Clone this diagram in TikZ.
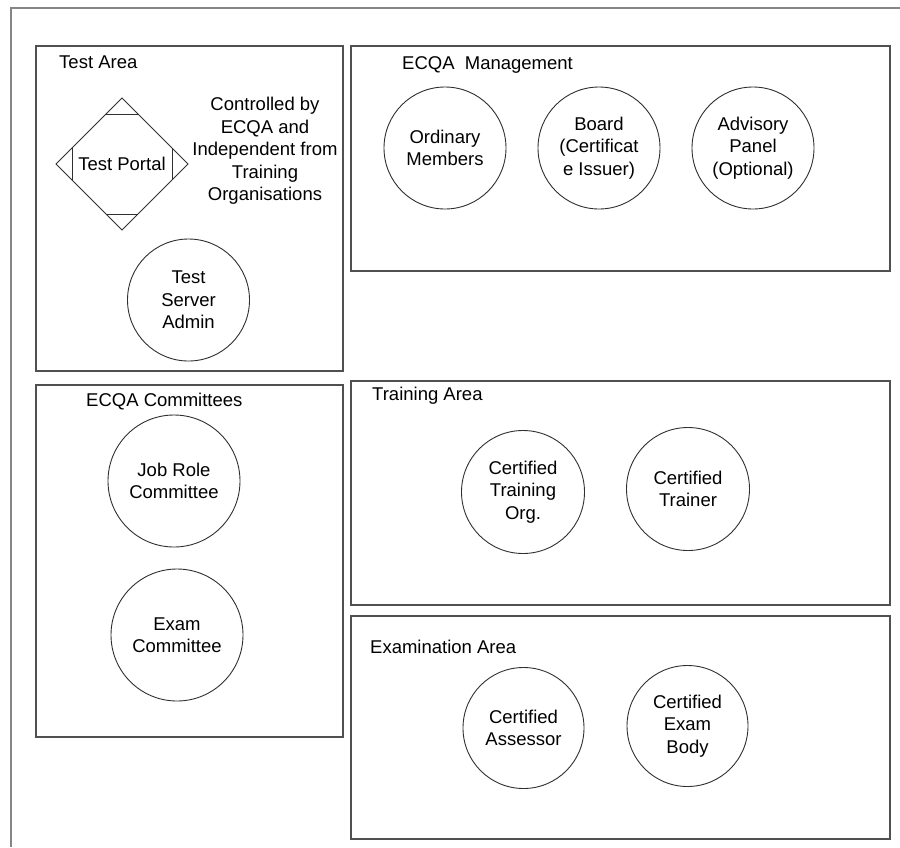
\documentclass[tikz,border=0pt]{standalone}
\usepackage{fontspec}
\setmainfont{Liberation Sans}
\usetikzlibrary{shapes.geometric}
\definecolor{boxline}{HTML}{505050}
\definecolor{frameline}{HTML}{858585}
\definecolor{circline}{HTML}{303030}
\tikzset{
  areabox/.style={draw=boxline, line width=1.6pt, anchor=north west, inner sep=0pt, fill=none},
  circ/.style={circle, draw=circline, line width=0.9pt, align=center, inner sep=0pt, font=\fontsize{18.5}{22.5}\selectfont},
  lbl/.style={anchor=west, inner sep=0pt, font=\fontsize{18.5}{22.5}\selectfont},
  txt/.style={align=center, inner sep=0pt, font=\fontsize{18.5}{22.5}\selectfont}
}
\begin{document}
\begin{tikzpicture}[x=1pt,y=-1pt]
\useasboundingbox (0,0) rectangle (900,847);
\fill[white] (0,0) rectangle (900,847);
% outer frame (only top and left visible)
\coordinate (ftr) at (900,7.5);
\coordinate (ftl) at (11,7.5);
\coordinate (fbl) at (11,847);
\draw[frameline, line width=2pt] (ftr) -- (ftl) -- (fbl);
% area boxes
\node[areabox, minimum width=307pt, minimum height=325pt] (testarea) at (35,45) {};
\node[areabox, minimum width=539pt, minimum height=225pt] (mgmt) at (350,45) {};
\node[areabox, minimum width=307pt, minimum height=352pt] (comm) at (35,384) {};
\node[areabox, minimum width=539pt, minimum height=224pt] (train) at (350,380) {};
\node[areabox, minimum width=539pt, minimum height=223pt] (exam) at (350,615) {};
% labels
\node[lbl] (lta) at (59,62) {Test Area};
\node[lbl] (lmg) at (402,65) {ECQA~ Management};
\node[lbl] (lcm) at (86,402) {ECQA Committees};
\node[lbl] (ltr) at (372,396) {Training Area};
\node[lbl] (lex) at (370,647) {Examination Area};
% test portal diamond
\coordinate (dT) at (122,98);
\coordinate (dB) at (122,230);
\coordinate (dL) at (56,164);
\coordinate (dR) at (188,164);
\draw[circline, line width=0.9pt] (dT) -- (dR) -- (dB) -- (dL) -- cycle;
\draw[circline, line width=0.9pt] (106,114) -- (138,114);
\draw[circline, line width=0.9pt] (106,214) -- (138,214);
\draw[circline, line width=0.9pt] (72,148) -- (72,180);
\draw[circline, line width=0.9pt] (172,148) -- (172,180);
\node[txt] (portal) at (122,164) {Test Portal};
\node[txt] (ctrl) at (265,151) {Controlled by\\ECQA and\\Independent from\\Training\\Organisations};
% circles
\node[circ, minimum size=122pt] (tsa) at (188.5,300) {Test\\Server\\Admin};
\node[circ, minimum size=122pt] (om) at (445,148) {Ordinary\\Members};
\node[circ, minimum size=122pt] (bd) at (599,148) {Board\\(Certificat\\e Issuer)};
\node[circ, minimum size=122pt] (ap) at (753,148) {Advisory\\Panel\\(Optional)};
\node[circ, minimum size=132pt] (jr) at (174,481) {Job Role\\Committee};
\node[circ, minimum size=132pt] (ec) at (177,635) {Exam\\Committee};
\node[circ, minimum size=123pt] (cto) at (523,492) {Certified\\Training\\Org.};
\node[circ, minimum size=123pt] (ctr) at (688,489) {Certified\\Trainer};
\node[circ, minimum size=121pt] (cas) at (523.5,728) {Certified\\Assessor};
\node[circ, minimum size=121pt] (ceb) at (687.5,726) {Certified\\Exam\\Body};
\end{tikzpicture}
\end{document}
